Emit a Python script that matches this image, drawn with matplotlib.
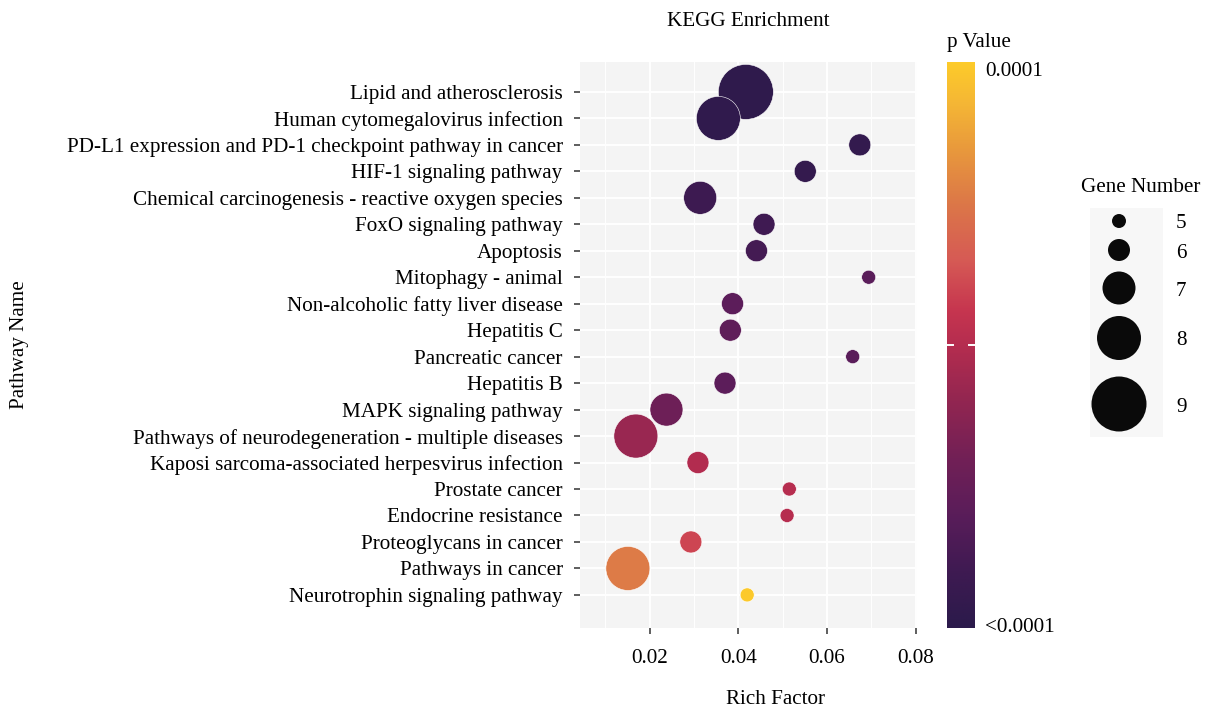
import numpy as np
import matplotlib
matplotlib.use("Agg")
from matplotlib import pyplot as plt
from matplotlib.colors import LinearSegmentedColormap, Normalize

plt.rcParams["font.family"] = ["Liberation Serif", "DejaVu Serif"]

pathways = [
    "Lipid and atherosclerosis",
    "Human cytomegalovirus infection",
    "PD-L1 expression and PD-1 checkpoint pathway in cancer",
    "HIF-1 signaling pathway",
    "Chemical carcinogenesis - reactive oxygen species",
    "FoxO signaling pathway",
    "Apoptosis",
    "Mitophagy - animal",
    "Non-alcoholic fatty liver disease",
    "Hepatitis C",
    "Pancreatic cancer",
    "Hepatitis B",
    "MAPK signaling pathway",
    "Pathways of neurodegeneration - multiple diseases",
    "Kaposi sarcoma-associated herpesvirus infection",
    "Prostate cancer",
    "Endocrine resistance",
    "Proteoglycans in cancer",
    "Pathways in cancer",
    "Neurotrophin signaling pathway",
]
rich_factor = [0.0417, 0.0355, 0.0674, 0.0551, 0.0314, 0.0458, 0.0441, 0.0694, 0.0387, 0.0382,
               0.0658, 0.0370, 0.0238, 0.0169, 0.0309, 0.0515, 0.0510, 0.0293, 0.0151, 0.0420]
gene_number = [9, 8, 6, 6, 7, 6, 6, 5, 6, 6, 5, 6, 7, 8, 6, 5, 5, 6, 8, 5]
p_value = [2e-6, 3e-6, 4e-6, 5e-6, 9e-6, 1.0e-5, 1.2e-5, 2.0e-5, 2.1e-5, 2.2e-5,
           2.0e-5, 2.1e-5, 2.8e-5, 4.2e-5, 4.9e-5, 5.0e-5, 5.0e-5, 6.0e-5, 7.6e-5, 9.9e-5]

legend_genes = [5, 6, 7, 8, 9]
x_ticks = [0.02, 0.04, 0.06, 0.08]

W, H = 1206, 709
DPI = 100
FS = 15.2


def fx(px):
    return px / W


def fy(py):
    return 1 - py / H


def diam_pt(g):
    # diameter in px for gene counts, converted to points
    return np.interp(g, [5, 6, 7, 8, 9], [14, 22, 33, 44, 55]) * 72 / DPI


cmap = LinearSegmentedColormap.from_list("pval", [
    (0.00, "#2b1a4b"), (0.10, "#3f1a52"), (0.20, "#5a1d5a"), (0.30, "#722056"),
    (0.40, "#922651"), (0.50, "#b52d4f"), (0.56, "#c6354f"), (0.65, "#d65a55"),
    (0.75, "#dc7748"), (0.85, "#e99a3c"), (0.93, "#f5b735"), (1.00, "#fdcb2a"),
])
norm = Normalize(0, 1e-4)

fig = plt.figure(figsize=(W / DPI, H / DPI), dpi=DPI)

# main panel
ax = fig.add_axes([fx(580), fy(628), fx(917) - fx(580), fy(62) - fy(628)])
ax.set_facecolor("#f4f4f4")
for s in ax.spines.values():
    s.set_visible(False)

rows = np.arange(len(pathways))
ax.scatter(rich_factor, rows, s=diam_pt(np.array(gene_number)) ** 2, c=p_value,
           cmap=cmap, norm=norm, edgecolors="white", linewidths=0.4, zorder=3)

ax.set_xlim(0.0043, 0.0803)
ax.set_ylim(20.25, -1.13)
ax.set_xticks(x_ticks)
ax.set_xticklabels([f"{t:.2f}" for t in x_ticks])
ax.set_xticks([0.01, 0.03, 0.05, 0.07], minor=True)
ax.set_yticks(rows)
ax.set_yticklabels(pathways)
ax.grid(True, which="major", color="white", linewidth=1.4, zorder=0)
ax.grid(True, which="minor", axis="x", color="white", linewidth=0.7, zorder=0)
ax.set_axisbelow(True)
ax.tick_params(axis="both", which="major", length=4, width=1.1, color="#333333",
               labelsize=FS, labelcolor="black")
ax.tick_params(axis="y", pad=8.5)
ax.tick_params(axis="x", pad=11)
ax.tick_params(which="minor", length=0)

fig.text(fx(748), fy(22), "KEGG Enrichment", ha="center", va="center", fontsize=FS)
fig.text(fx(775), fy(699), "Rich Factor", ha="center", va="center", fontsize=FS)
fig.text(fx(20), fy(345), "Pathway Name", ha="center", va="center", rotation=90, fontsize=FS)

# colorbar
cax = fig.add_axes([fx(947), fy(628), fx(975) - fx(947), fy(62) - fy(628)])
grad = np.linspace(0, 1, 256).reshape(-1, 1)
cax.imshow(grad, aspect="auto", cmap=cmap, origin="lower", extent=[0, 1, 0, 1])
cax.set_xlim(0, 1)
cax.set_ylim(0, 1)
cax.axis("off")
cax.plot([0, 0.2], [0.5, 0.5], color="white", linewidth=1.4)
cax.plot([0.8, 1], [0.5, 0.5], color="white", linewidth=1.4)
fig.text(fx(947), fy(43), "p Value", ha="left", va="center", fontsize=FS)
fig.text(fx(985), fy(71), "0.0001", ha="left", va="center", fontsize=FS)
fig.text(fx(985), fy(627), "<0.0001", ha="left", va="center", fontsize=FS)

# size legend
lax = fig.add_axes([fx(1090), fy(437), fx(1163) - fx(1090), fy(208) - fy(437)])
lax.set_facecolor("#f7f7f7")
for s in lax.spines.values():
    s.set_visible(False)
lax.set_xticks([])
lax.set_yticks([])
lax.set_xlim(1090, 1163)
lax.set_ylim(437, 208)
leg_y = [221, 250, 288, 338, 404]
lax.scatter([1119] * len(legend_genes), leg_y, s=diam_pt(np.array(legend_genes)) ** 2,
            color="#0a0a0a", edgecolors="none")
for g, y in zip(legend_genes, leg_y):
    fig.text(fx(1176), fy(y + 3), str(g), ha="left", va="center", fontsize=FS)
fig.text(fx(1141), fy(187), "Gene Number", ha="center", va="center", fontsize=FS)

fig.savefig("out.png", dpi=DPI)
